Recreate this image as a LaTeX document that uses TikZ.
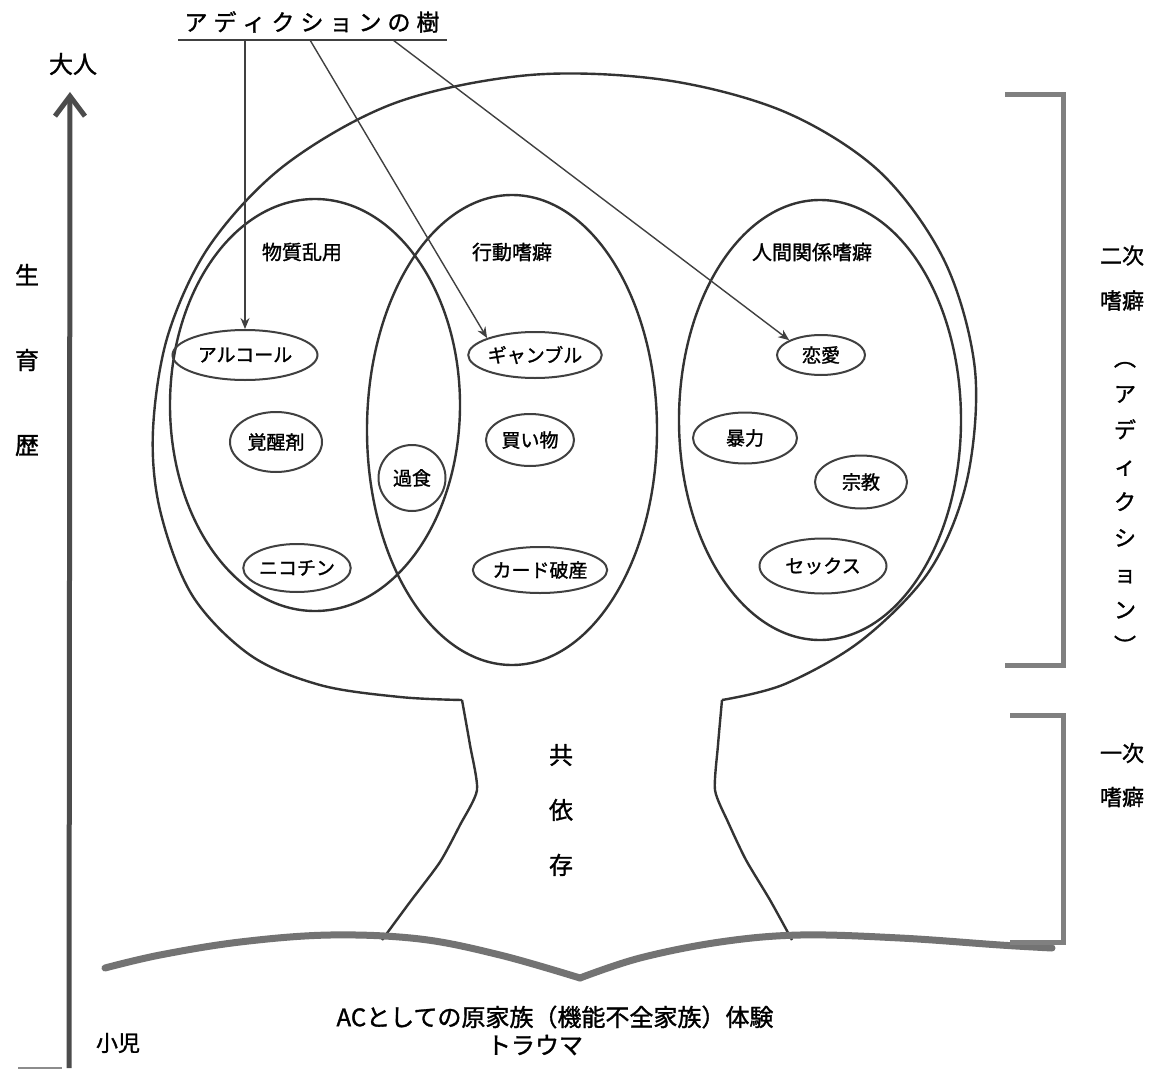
\documentclass[tikz,border=0pt]{standalone}
\usepackage{fontspec}
\setmainfont{Noto Sans CJK JP}[FakeBold=1.3]
\usetikzlibrary{shapes.geometric,arrows.meta}
\begin{document}
\begin{tikzpicture}[x=1pt,y=-1pt,
  outline/.style={draw=black!80, line width=2.4pt, line join=round},
  bigell/.style={ellipse, draw=black!80, line width=2.4pt, inner sep=0pt},
  lbl/.style={ellipse, draw=black!75, line width=2pt, inner sep=0pt, font=\fontsize{19}{19}\selectfont},
  grouptitle/.style={font=\fontsize{20}{20}\selectfont},
  conn/.style={draw=black!75, line width=1.4pt, -{Stealth[length=11pt,width=9pt]}},
  bracketline/.style={draw=black!50, line width=5pt},
  groundline/.style={draw=black!55, line width=7pt, line cap=round},
  axisline/.style={draw=black!70, line width=5pt},
  sidetext/.style={font=\fontsize{22}{22}\selectfont, align=center},
]
\useasboundingbox (0,0) rectangle (1152,1073);
\fill[white] (0,0) rectangle (1152,1073);

% title with underline
\node[font=\fontsize{23}{23}\selectfont] (title) at (312,22)
  {ア\kern6ptデ\kern6ptィ\kern6ptク\kern6ptシ\kern6ptョ\kern6ptン\kern6ptの\kern6pt樹};
\draw[draw=black!75, line width=1.5pt] (178,40) -- (447,40);
\coordinate (u1) at (245,40);
\coordinate (u2) at (310,40);
\coordinate (u3) at (393,40);

% tree crown
\draw[outline] plot[smooth, tension=0.55] coordinates {(462,700) (400,697) (320,685) (250,655) (192,595) (160,510) (153,430) (168,335) (210,245) (285,165) (395,103) (530,75) (665,80) (785,112) (880,172) (945,262) (975,370) (967,480) (930,570) (862,640) (785,684) (722,700)};
% trunk
\draw[outline] plot[smooth, tension=0.4] coordinates {(462,700) (470,745) (477,790) (460,825) (440,862) (410,902) (382,940)};
\draw[outline] plot[smooth, tension=0.4] coordinates {(722,700) (718,745) (715,790) (728,822) (746,860) (770,900) (792,940)};

% ground
\draw[groundline] plot[smooth, tension=0.6] coordinates {(105,968) (160,955) (240,942) (330,935) (420,939) (500,955) (580,978)};
\draw[groundline] plot[smooth, tension=0.6] coordinates {(580,978) (640,958) (720,942) (800,935) (900,938) (1000,945) (1052,948)};

% three big ellipses
\node[bigell, minimum width=290pt, minimum height=412pt] (subs) at (315,405) {};
\node[bigell, minimum width=290pt, minimum height=470pt] (beh) at (512,430) {};
\node[bigell, minimum width=282pt, minimum height=440pt] (rel) at (820,420) {};

\node[grouptitle] (subsT) at (302,252) {物質乱用};
\node[grouptitle] (behT) at (512,252) {行動嗜癖};
\node[grouptitle] (relT) at (812,252) {人間関係嗜癖};

% small ellipses
\node[lbl, minimum width=145pt, minimum height=50pt] (alc) at (245,355) {アルコール};
\node[lbl, minimum width=92pt, minimum height=60pt] (stim) at (276,442) {覚醒剤};
\node[lbl, minimum width=102pt, minimum height=48pt] (nic) at (297,568) {ニコチン};
\node[lbl, minimum width=67pt, minimum height=66pt] (over) at (412,478) {過食};
\node[lbl, minimum width=112pt, minimum height=46pt] (gamb) at (535,355) {ギャンブル};
\node[lbl, minimum width=88pt, minimum height=52pt] (shop) at (530,440) {買い物};
\node[lbl, minimum width=122pt, minimum height=46pt] (card) at (540,570) {カード破産};
\node[lbl, minimum width=88pt, minimum height=40pt] (love) at (821,355) {恋愛};
\node[lbl, minimum width=104pt, minimum height=51pt] (viol) at (745,438) {暴力};
\node[lbl, minimum width=92pt, minimum height=53pt] (relig) at (861,482) {宗教};
\node[lbl, minimum width=127pt, minimum height=55pt] (sex) at (823,566) {セックス};

% connectors from title
\draw[conn] (u1) -- (alc.north);
\draw[conn] (u2) -- (gamb.north west);
\draw[conn] (u3) -- (love.north west);

% growth axis
\coordinate (axb) at (69,1068);
\coordinate (axt) at (70,92);
\draw[axisline, -{Straight Barb[length=20pt,width=30pt]}] (axb) -- (axt);
\draw[draw=black!45, line width=2.5pt] (18,1068) -- (62,1068);
\node[font=\fontsize{24}{24}\selectfont] (adult) at (73,64) {大人};
\node[font=\fontsize{24}{85}\selectfont, align=center] (growth) at (27,360) {生\\育\\歴};
\node[font=\fontsize{22}{22}\selectfont] (child) at (118,1043) {小児};

% trunk label
\node[font=\fontsize{24}{55}\selectfont, align=center] (codep) at (561,810) {共\\依\\存};

% brackets
\draw[bracketline] (1005,95) -- (1063,95) -- (1063,665) -- (1005,665);
\draw[bracketline] (1010,715) -- (1063,715) -- (1063,942) -- (1010,942);
\node[sidetext, font=\fontsize{22}{45}\selectfont] (second) at (1122,278) {二次\\嗜癖};
\node[font=\fontsize{22}{36}\selectfont, align=center] (addv) at (1125,508) {︵\\ア\\デ\\ィ\\ク\\シ\\ョ\\ン\\︶};
\node[sidetext, font=\fontsize{22}{44}\selectfont] (first) at (1122,775) {一次\\嗜癖};

% bottom texts
\node[font=\fontsize{24}{24}\selectfont] (bottom1) at (555,1017) {ACとしての原家族（機能不全家族）体験};
\node[font=\fontsize{24}{24}\selectfont] (bottom2) at (535,1045) {トラウマ};
\end{tikzpicture}
\end{document}
